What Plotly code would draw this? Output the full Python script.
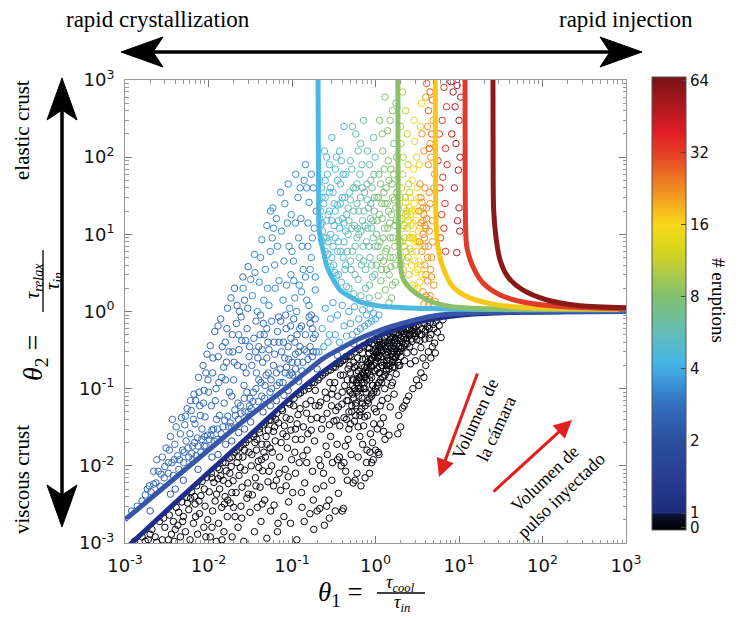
import math
import plotly.graph_objects as go

# ---------------- data ----------------
tick_vals = [1e-3, 1e-2, 1e-1, 1, 10, 100, 1000]
tick_text = ["10<sup>-3</sup>", "10<sup>-2</sup>", "10<sup>-1</sup>", "10<sup>0</sup>",
             "10<sup>1</sup>", "10<sup>2</sup>", "10<sup>3</sup>"]

cbar_eruptions = [0, 1, 2, 4, 8, 16, 32, 64]
cbar_labels = ["0", "1", "2", "4", "8", "16", "32", "64"]

# model curves (theta1, theta2) for 1, 2, 4, 8, 16, 32, 64 eruptions
curve_n1_t1 = [1e-3, 3e-3, 1e-2, 3e-2, 0.1, 0.2, 0.4, 0.7, 1.2, 2, 4, 8, 20, 60, 200, 1000]
curve_n1_t2 = [8.3e-4, 2.5e-3, 8.2e-3, 2.4e-2, 7.9e-2, 0.145, 0.25, 0.37, 0.5, 0.62, 0.77, 0.87, 0.94, 0.98, 0.99, 1.0]
curve_n2_t1 = [1e-3, 3e-3, 1e-2, 3e-2, 0.095, 0.143, 0.235, 0.4, 0.6, 1.0, 1.49, 3, 5.9, 20, 100, 1000]
curve_n2_t2 = [2.0e-3, 5.4e-3, 1.6e-2, 4.3e-2, 0.112, 0.16, 0.245, 0.34, 0.43, 0.54, 0.63, 0.78, 0.9, 0.97, 0.99, 1.0]
curve_n4_t1 = [0.205, 0.206, 0.208, 0.211, 0.22, 0.235, 0.263, 0.3, 0.376, 0.5, 0.65, 1.0, 1.37, 2.5, 4.5, 10, 30, 100, 1000]
curve_n4_t2 = [1000, 300, 60, 12.5, 8.5, 6.3, 3.8, 2.8, 1.9, 1.55, 1.33, 1.2, 1.15, 1.11, 1.09, 1.07, 1.06, 1.05, 1.05]
curve_n8_t1 = [1.855, 1.86, 1.87, 1.9, 1.95, 2.13, 2.8, 4.5, 7.8, 15, 30, 100, 1000]
curve_n8_t2 = [1000, 100, 25, 8, 5, 2.7, 1.85, 1.37, 1.16, 1.1, 1.08, 1.07, 1.06]
curve_n16_t1 = [5.2, 5.22, 5.3, 5.6, 6.4, 8.5, 13.5, 28.5, 71, 200, 1000]
curve_n16_t2 = [1000, 100, 15.4, 6.9, 3.8, 2.08, 1.5, 1.22, 1.12, 1.09, 1.07]
curve_n32_t1 = [11.8, 11.85, 12.0, 12.4, 14.7, 19.4, 31, 58, 176, 1000]
curve_n32_t2 = [1000, 100, 12.5, 6.9, 3.8, 2.34, 1.64, 1.33, 1.15, 1.08]
curve_n64_t1 = [25.5, 25.6, 26.0, 27.7, 31, 38.6, 58, 113, 281, 1000]
curve_n64_t2 = [1000, 100, 20.7, 9.2, 4.66, 2.8, 1.9, 1.41, 1.19, 1.12]

# simulated cases, (theta1, theta2), grouped by number of eruptions
pts_n0 = [
 (1.3e-3,1.05e-3),(1.6e-3,1.2e-3),(1.75e-3,1.05e-3),
 (1.9e-3,1.1e-3),(2.1e-3,1.5e-3),(2.3e-3,1.2e-3),(2.6e-3,1.9e-3),(2.8e-3,1.1e-3),(3.0e-3,1.6e-3),(2.4e-3,1.02e-3),
 (3.4e-3,2.3e-3),(3.6e-3,1.3e-3),(3.9e-3,1.05e-3),(4.1e-3,2.9e-3),(4.3e-3,1.7e-3),(4.6e-3,1.2e-3),(4.8e-3,3.4e-3),
 (5.0e-3,2.2e-3),(5.3e-3,1.4e-3),(5.5e-3,3.9e-3),(3.8e-3,1.9e-3),(4.4e-3,2.5e-3),
 (5.8e-3,2.7e-3),(6.0e-3,1.1e-3),(6.3e-3,4.6e-3),(6.6e-3,1.8e-3),(6.9e-3,3.2e-3),(7.2e-3,5.5e-3),(7.4e-3,1.3e-3),
 (7.8e-3,2.4e-3),(8.1e-3,4.1e-3),(8.4e-3,6.3e-3),(8.8e-3,1.6e-3),(9.1e-3,3.0e-3),(9.5e-3,7.1e-3),(9.8e-3,2.0e-3),
 (6.1e-3,3.8e-3),(7.0e-3,2.2e-3),
 (1.02e-2,4.6e-3),(1.05e-2,1.2e-3),(1.08e-2,8.0e-3),(1.12e-2,2.6e-3),(1.16e-2,6.1e-3),(1.2e-2,3.5e-3),(1.24e-2,1.05e-3),
 (1.28e-2,9.5e-3),(1.32e-2,1.8e-3),(1.36e-2,5.0e-3),(1.4e-2,7.4e-3),(1.44e-2,2.9e-3),(1.49e-2,1.1e-2),(1.53e-2,1.4e-3),
 (1.58e-2,4.0e-3),(1.63e-2,8.6e-3),(1.68e-2,2.2e-3),(1.73e-2,5.9e-3),(1.77e-2,1.25e-2),(1.1e-2,1.6e-3),(1.3e-2,6.8e-3),
 (1.55e-2,3.2e-3),
 (1.82e-2,3.3e-3),(1.87e-2,9.8e-3),(1.92e-2,1.2e-3),(1.97e-2,6.4e-3),(2.02e-2,1.5e-2),(2.08e-2,2.2e-3),(2.14e-2,4.5e-3),
 (2.2e-2,1.1e-2),(2.26e-2,1.6e-3),(2.32e-2,7.5e-3),(2.38e-2,1.75e-2),(2.45e-2,3.0e-3),(2.52e-2,5.3e-3),(2.58e-2,1.3e-2),
 (2.65e-2,1.05e-3),(2.72e-2,8.8e-3),(2.8e-2,2.0e-2),(2.88e-2,3.8e-3),(2.96e-2,6.0e-3),(3.05e-2,1.5e-2),(3.14e-2,2.5e-3),
 (2.0e-2,2.9e-3),(2.3e-2,1.3e-2),(2.7e-2,1.6e-2),
 (3.25e-2,1.0e-2),(3.35e-2,4.2e-3),(3.45e-2,2.4e-2),(3.55e-2,1.4e-3),(3.65e-2,7.0e-3),(3.75e-2,1.6e-2),(3.85e-2,2.9e-3),
 (3.95e-2,1.15e-2),(4.05e-2,3.0e-2),(4.15e-2,5.3e-3),(4.25e-2,1.9e-3),(4.35e-2,1.9e-2),(4.45e-2,8.6e-3),(4.55e-2,3.4e-2),
 (4.7e-2,3.6e-3),(4.8e-2,1.3e-2),(4.9e-2,2.4e-2),(5.0e-2,1.15e-3),(5.15e-2,6.2e-3),(5.3e-2,3.9e-2),(5.45e-2,1.7e-2),
 (5.55e-2,2.6e-3),(3.6e-2,2.0e-2),(4.0e-2,9.5e-3),(4.6e-2,1.5e-2),(5.2e-2,2.9e-2),
 (5.7e-2,1.0e-2),(5.9e-2,4.4e-2),(6.1e-2,3.1e-3),(6.3e-2,2.1e-2),(6.5e-2,6.5e-3),(6.7e-2,1.4e-3),(6.9e-2,3.6e-2),
 (7.1e-2,1.3e-2),(7.3e-2,4.8e-3),(7.5e-2,5.5e-2),(7.8e-2,2.6e-2),(8.0e-2,2.2e-3),(8.3e-2,9.0e-3),(8.5e-2,4.2e-2),
 (8.8e-2,1.7e-2),(9.1e-2,3.4e-3),(9.4e-2,6.3e-2),(9.7e-2,2.9e-2),(9.9e-2,1.2e-2),(6.0e-2,2.8e-2),(6.8e-2,1.8e-3),
 (8.1e-2,3.3e-2),(9.0e-2,7.2e-3),(6.4e-2,4.0e-2),
 (0.102,4.5e-3),(0.106,7.5e-2),(0.11,2.2e-2),(0.114,1.1e-3),(0.118,4.6e-2),(0.122,1.1e-2),(0.127,8.8e-2),(0.132,2.9e-3),
 (0.137,3.2e-2),(0.142,6.0e-3),(0.147,6.3e-2),(0.152,1.6e-2),(0.158,0.1),(0.164,2.4e-3),(0.17,4.0e-2),(0.176,8.5e-3),
 (0.108,1.5e-2),(0.125,5.5e-2),(0.14,1.9e-3),(0.155,2.6e-2),(0.168,7.0e-2),(0.115,3.5e-2),(0.135,1.35e-2),(0.172,0.12),
 (0.182,1.5e-3),(0.186,2.1e-2),(0.19,9.5e-2),(0.195,5.0e-3),(0.2,4.2e-2),(0.205,0.13),(0.21,1.2e-2),(0.215,2.8e-3),
 (0.22,6.7e-2),(0.226,3.0e-2),(0.232,0.15),(0.238,8.0e-3),(0.244,1.7e-3),(0.25,9.0e-2),(0.256,1.8e-2),(0.263,4.8e-2),
 (0.27,0.17),(0.277,3.6e-3),(0.284,0.12),(0.29,2.4e-2),(0.297,6.0e-2),(0.305,1.1e-2),(0.312,0.19),(0.318,3.8e-2),
 (0.2,2.6e-3),(0.24,5.5e-3),(0.28,2.1e-3),(0.3,8.5e-2),(0.21,6.0e-2),(0.265,1.4e-2),
 (0.325,0.12),(0.33,2.6e-3),(0.335,5.2e-2),(0.34,0.21),(0.347,1.9e-2),(0.354,8.0e-2),(0.36,4.4e-3),(0.367,0.21),
 (0.374,3.3e-2),(0.381,0.15),(0.388,1.0e-2),(0.396,6.3e-2),(0.404,0.23),(0.412,2.8e-3),(0.42,4.2e-2),(0.428,0.11),
 (0.436,1.8e-2),(0.444,0.26),(0.452,7.0e-2),(0.46,6.5e-3),(0.47,0.18),(0.48,3.0e-2),(0.49,9.5e-2),(0.5,0.27),
 (0.51,1.4e-2),(0.52,5.0e-2),(0.53,0.13),(0.54,6.0e-3),(0.55,0.22),(0.37,1.3e-2),(0.41,0.15),(0.45,4.0e-2),(0.49,0.2),
 (0.53,8.5e-2),(0.34,3.9e-2),(0.44,8.5e-3),(0.4,2.6e-3),
 (0.57,0.3),(0.58,6.0e-2),(0.59,0.16),(0.6,8.0e-3),(0.61,0.25),(0.62,3.2e-2),(0.63,0.1),(0.64,0.32),(0.65,5.0e-2),
 (0.66,0.14),(0.67,5.5e-3),(0.68,0.2),(0.69,7.5e-2),(0.7,1.9e-2),(0.72,0.36),(0.73,0.12),(0.74,4.3e-2),(0.76,0.24),
 (0.77,9.0e-2),(0.78,1.1e-2),(0.8,0.16),(0.81,0.34),(0.82,6.5e-2),(0.84,0.29),(0.85,0.13),(0.87,2.6e-2),(0.88,0.2),
 (0.9,8.0e-2),(0.91,0.38),(0.93,0.11),(0.94,1.2e-2),(0.96,0.26),(0.97,5.5e-2),(0.99,0.17),(0.62,1.3e-2),(0.75,7.0e-3),
 (0.86,1.5e-2),(0.95,3.5e-2),(0.7,0.29),(0.83,0.4),(0.57,6.5e-3),(0.79,1.6e-2),(0.85,8.0e-3),(0.9,1.1e-2),
 (1.02,0.42),(1.04,9.0e-2),(1.06,0.25),(1.08,1.5e-2),(1.1,0.16),(1.12,0.44),(1.14,6.0e-2),(1.16,0.32),(1.19,0.12),
 (1.21,0.2),(1.24,4.2e-2),(1.26,0.4),(1.29,0.1),(1.31,0.28),(1.34,0.18),(1.37,0.49),(1.4,7.5e-2),(1.43,0.35),(1.46,0.14),
 (1.49,0.23),(1.52,0.47),(1.55,0.11),(1.58,0.3),(1.61,0.19),(1.64,0.52),(1.67,8.5e-2),(1.7,0.4),(1.73,0.25),(1.77,0.155),
 (1.05,3.0e-2),(1.18,0.36),(1.3,2.2e-2),(1.45,2.5e-2),(1.5,5.8e-2),(1.2,7.0e-2),(1.38,0.23),(1.6,0.12),(1.75,0.33),
 (1.15,0.22),(1.28,0.46),(1.0,1.6e-2),(1.1,1.4e-2),
 (1.82,0.52),(1.85,0.3),(1.88,0.2),(1.92,0.58),(1.96,0.42),(2.0,0.26),(2.04,0.55),(2.08,0.34),(2.13,0.6),(2.18,0.46),
 (2.23,0.23),(2.28,0.38),(2.33,0.58),(2.38,0.29),(2.44,0.62),(2.5,0.49),(2.56,0.35),(2.62,0.21),(2.68,0.57),(2.75,0.41),
 (2.82,0.65),(2.9,0.3),(2.97,0.52),(3.05,0.64),(3.12,0.43),(1.9,4.5e-2),(2.0,3.2e-2),(1.85,2.6e-2),(2.1,5.6e-2),(3.0,0.23),
 (2.2,0.06),(2.5,0.08),(2.8,0.1),(3.1,0.13),(3.5,0.16),(4.0,0.2),(4.6,0.25),(5.2,0.29),(2.35,0.07),(3.3,0.11),(3.8,0.14),
 (3.3,0.68),(3.4,0.5),(3.5,0.34),(3.6,0.6),(3.7,0.25),(3.8,0.7),(3.9,0.44),(4.2,0.64),(4.3,0.3),(4.5,0.72),(4.6,0.5),
 (4.8,0.35),(4.9,0.68),(5.1,0.39),(5.3,0.75),(5.5,0.54),(5.8,0.66),(6.1,0.46),(6.4,0.78),
 (0.48,0.05),(0.52,0.06),(0.55,0.075),(0.58,0.065),(0.6,0.09),(0.63,0.08),(0.66,0.1),(0.69,0.12),(0.72,0.1),(0.75,0.14),
 (0.78,0.13),(0.82,0.17),(0.86,0.15),(0.9,0.19),(0.95,0.2),(1.0,0.22),(1.05,0.25),(1.1,0.27),(1.17,0.26),(1.24,0.31),
 (1.32,0.33),(1.4,0.3),(1.48,0.37),(1.56,0.4),(1.65,0.36),(1.75,0.45),(1.85,0.42),(0.5,0.035),(0.7,0.065),(0.92,0.11),
 (1.13,0.16),(1.36,0.2),(1.6,0.26),(1.9,0.35),
 (1.1e-2,7.0e-3),(1.35e-2,9.0e-3),(1.6e-2,1.1e-2),(1.9e-2,1.3e-2),(2.2e-2,1.6e-2),(2.6e-2,1.9e-2),(3.0e-2,2.2e-2),
 (3.5e-2,2.6e-2),(4.1e-2,2.7e-2),(4.8e-2,3.6e-2),(5.6e-2,3.9e-2),(6.6e-2,4.8e-2),(7.7e-2,5.2e-2),(9.0e-2,6.6e-2),
 (0.105,6.0e-2),(0.12,8.5e-2),(0.14,9.5e-2),(0.16,0.11),(0.185,0.12),(0.215,0.14),(0.25,0.16),(0.29,0.175),(0.33,0.19),
 (0.38,0.22),(0.43,0.24),(0.48,0.26),
 (1.5e-2,6.5e-3),(1.8e-2,8.0e-3),(2.4e-2,9.5e-3),(3.3e-2,1.4e-2),(3.8e-2,2.2e-2),(4.3e-2,1.2e-2),(5.0e-2,1.9e-2),
 (5.8e-2,1.5e-2),(6.2e-2,3.2e-2),(7.4e-2,2.0e-2),(8.6e-2,2.4e-2),(9.5e-2,4.0e-2),(0.11,3.0e-2),(0.13,2.2e-2),
 (0.15,4.8e-2),(0.17,2.9e-2),(0.19,6.0e-2),(0.23,4.0e-2),(0.26,7.5e-2),(0.28,3.4e-2),(0.31,0.1),(0.36,5.8e-2),(0.4,9.0e-2),
 (0.46,0.13),(0.5,0.16),(0.56,0.19),(0.6,0.13),
 (1.9e-2,4.5e-3),(2.5e-2,2.1e-3),(3.0e-2,4.3e-3),(3.7e-2,5.5e-3),(4.4e-2,3.2e-3),(5.3e-2,8.5e-3),(6.0e-2,5.5e-3),
 (7.0e-2,8.0e-3),(8.5e-2,5.5e-3),(9.6e-2,1.8e-3),(0.11,8.0e-3),(0.13,4.5e-3),(0.15,1.1e-2),(0.18,3.6e-3),(0.22,1.0e-2),
 (0.26,3.0e-3),(0.3,6.5e-3),(0.35,1.2e-2),(0.42,1.1e-2),(0.47,2.2e-2),(0.56,3.8e-2),(0.65,2.4e-2),(0.72,3.3e-2),
 (0.8,4.5e-2),(0.92,2.0e-2),(1.02,5.0e-2),(1.15,3.5e-2),(1.25,2.8e-2),
 (0.55,0.13),(0.62,0.17),(0.68,0.15),(0.74,0.19),(0.8,0.22),(0.87,0.24),(0.94,0.3),(1.0,0.33),(1.08,0.36),(1.18,0.3),
 (1.26,0.22),(1.35,0.27),(1.45,0.42),(1.55,0.33),(1.68,0.3),(1.8,0.38),(2.0,0.45),(2.2,0.52),(2.4,0.45),(2.6,0.5),
 (2.9,0.58),(3.2,0.55),(3.6,0.5),(4.0,0.58),(4.4,0.6),(0.65,0.045),(0.75,0.06),(0.85,0.075),(0.95,0.09),(1.05,0.11),
 (1.15,0.13),(1.3,0.15),(1.45,0.18),(1.6,0.22),(1.75,0.26),(2.0,0.33),(2.2,0.36),
 (2.0e-3,1.3e-3),(2.9e-3,2.1e-3),(3.3e-3,1.1e-3),(4.0e-3,1.5e-3),(4.9e-3,1.9e-3),(5.6e-3,3.3e-3),(6.8e-3,4.0e-3),
 (7.7e-3,3.5e-3),(8.9e-3,5.0e-3),(9.3e-3,1.2e-3),(1.25e-2,4.3e-3),(1.45e-2,1.1e-3),(1.7e-2,3.6e-3),
 (0.47,0.07),(0.5,0.09),(0.53,0.11),(0.56,0.1),(0.59,0.12),(0.62,0.11),(0.64,0.14),(0.67,0.13),(0.7,0.16),(0.73,0.15),
 (0.76,0.17),(0.79,0.19),(0.83,0.21),(0.88,0.23),(0.92,0.25),(0.97,0.27),(1.02,0.29),(1.07,0.31),(1.12,0.34),(1.2,0.38),
 (1.3,0.36),(1.4,0.39),(1.5,0.44),(1.62,0.46),(1.72,0.5),(1.9,0.5),(2.1,0.56),(2.3,0.5),(2.55,0.6),(2.8,0.52),
 (0.58,0.045),(0.68,0.055),(0.8,0.07),(0.9,0.085),(1.0,0.1),(1.1,0.12),(1.22,0.14),(1.35,0.17),(1.5,0.2),(1.65,0.24),
 (1.8,0.28),(1.95,0.3),(2.1,0.4),(2.4,0.38),(2.7,0.44),(3.0,0.48),(3.4,0.42),(3.9,0.55),(4.4,0.45),(5.0,0.6),
 (0.75,0.1),(0.9,0.14),(1.05,0.18),(1.2,0.2),(1.4,0.25),(1.55,0.28),(1.7,0.19),(1.85,0.22),(1.95,0.2),(0.6,0.2),
 (0.7,0.24),(0.85,0.33),(0.98,0.37),(1.12,0.4),
]
pts_n2 = [
 (2.0e-3,2.6e-3),(3.5e-3,4.3e-3),(5.0e-3,6.5e-3),(7.5e-3,9.0e-3),(1.1e-2,1.3e-2),(1.6e-2,1.9e-2),(2.3e-2,2.7e-2),
 (3.2e-2,3.7e-2),(4.5e-2,5.0e-2),(6.5e-2,7.0e-2),(9.0e-2,9.5e-2),(0.12,0.125),(4.0e-3,5.0e-3),(1.3e-2,1.4e-2),
 (2.7e-2,3.0e-2),(5.5e-2,6.0e-2),(8.0e-2,8.2e-2),(1.9e-2,2.1e-2),(0.2,0.18),(0.35,0.27),(0.55,0.38),(0.9,0.48),(1.5,0.6),
]
pts_n2_7 = [
 (1.2e-3,2.6e-3),(1.4e-3,3.0e-3),(1.6e-3,3.5e-3),(1.75e-3,4.2e-3),
 (1.85e-3,5.0e-3),(1.95e-3,5.5e-3),(2.05e-3,4.6e-3),(2.2e-3,8.5e-3),(2.35e-3,6.0e-3),(2.5e-3,8.5e-3),(2.65e-3,5.4e-3),
 (2.8e-3,1.3e-2),(2.95e-3,7.0e-3),(3.1e-3,1.7e-2),(2.4e-3,1.2e-2),(3.0e-3,9.8e-3),
 (3.3e-3,8.0e-3),(3.4e-3,1.6e-2),(3.5e-3,2.4e-2),(3.65e-3,1.1e-2),(3.8e-3,7.5e-3),(3.95e-3,1.9e-2),(4.1e-3,3.2e-2),
 (4.25e-3,1.35e-2),(4.4e-3,9.0e-3),(4.6e-3,2.6e-2),(4.75e-3,4.2e-2),(4.9e-3,1.6e-2),(5.05e-3,1.1e-2),(5.2e-3,3.4e-2),
 (5.4e-3,2.1e-2),(5.55e-3,5.5e-2),(3.7e-3,4.0e-2),
 (5.8e-3,1.3e-2),(6.0e-3,2.6e-2),(6.2e-3,5.2e-2),(6.45e-3,1.8e-2),(6.7e-3,8.5e-2),(6.9e-3,3.5e-2),(7.1e-3,1.35e-2),
 (7.35e-3,2.3e-2),(7.6e-3,0.14),(7.85e-3,6.0e-2),(8.1e-3,1.5e-2),(8.35e-3,3.0e-2),(8.6e-3,0.2),(8.85e-3,9.5e-2),
 (9.1e-3,4.3e-2),(9.35e-3,1.8e-2),(9.6e-3,0.28),(9.85e-3,0.13),(6.5e-3,1.2e-2),(8.0e-3,4.5e-2),(9.0e-3,2.4e-2),(7.0e-3,7.0e-2),
 (1.02e-2,2.2e-2),(1.05e-2,0.36),(1.08e-2,6.0e-2),(1.12e-2,0.16),(1.15e-2,3.0e-2),(1.19e-2,0.55),(1.23e-2,0.1),
 (1.27e-2,2.2e-2),(1.31e-2,0.26),(1.35e-2,4.5e-2),(1.4e-2,0.8),(1.44e-2,0.14),(1.49e-2,3.2e-2),(1.54e-2,6.5e-2),
 (1.59e-2,0.4),(1.64e-2,0.22),(1.69e-2,1.1),(1.74e-2,3.2e-2),(1.78e-2,9.0e-2),(1.1e-2,2.9e-2),(1.3e-2,0.65),(1.6e-2,0.13),
 (1.25e-2,4.0e-2),
 (1.82e-2,3.6e-2),(1.86e-2,1.5),(1.9e-2,8.0e-2),(1.95e-2,0.3),(2.0e-2,0.13),(2.05e-2,2.0),(2.1e-2,4.5e-2),(2.16e-2,0.7),
 (2.22e-2,0.2),(2.28e-2,4.0e-2),(2.35e-2,1.0),(2.42e-2,6.0e-2),(2.5e-2,0.42),(2.58e-2,2.8),(2.66e-2,0.11),(2.74e-2,5.0e-2),
 (2.82e-2,0.16),(2.9e-2,0.6),(2.98e-2,3.8),(3.06e-2,0.26),(3.14e-2,7.5e-2),(2.3e-2,0.5),(2.7e-2,1.4),(3.0e-2,5.0e-2),
 (3.25e-2,5.5e-2),(3.45e-2,9.0e-2),(3.65e-2,0.3),(3.75e-2,0.16),(3.95e-2,6.8e-2),(4.15e-2,0.5),(4.25e-2,0.12),
 (4.45e-2,0.22),(4.55e-2,0.7),(4.7e-2,7.5e-2),(4.9e-2,0.15),(5.15e-2,0.4),(5.45e-2,9.0e-2),(4.0e-2,0.35),(5.0e-2,0.25),
 (5.7e-2,0.1),(6.1e-2,0.4),(6.5e-2,0.16),(6.9e-2,0.85),(7.1e-2,0.12),(7.5e-2,0.3),(8.3e-2,0.16),(8.5e-2,0.6),
 (9.1e-2,0.24),(9.9e-2,0.16),(7.0e-2,0.4),(8.2e-2,0.25),(9.6e-2,0.65),
 (0.102,0.15),(0.108,0.4),(0.117,0.22),(0.124,0.6),(0.132,0.17),(0.14,0.32),(0.155,0.24),(0.165,0.7),(0.175,0.26),
 (0.18,0.45),(0.195,0.3),(0.11,0.28),(0.17,0.9),(0.19,0.5),(0.125,0.35),
 (2.2e-3,5.8e-3),(2.7e-3,7.8e-3),(3.3e-3,1.1e-2),(3.9e-3,1.2e-2),(4.5e-3,1.2e-2),(5.1e-3,1.5e-2),(5.7e-3,1.7e-2),
 (6.3e-3,1.45e-2),(6.8e-3,2.0e-2),(7.5e-3,1.8e-2),(8.3e-3,2.2e-2),(8.9e-3,1.8e-2),(9.7e-3,2.5e-2),(1.07e-2,2.5e-2),
 (1.17e-2,2.1e-2),(1.28e-2,3.0e-2),(1.42e-2,2.6e-2),(1.56e-2,3.9e-2),(1.7e-2,4.4e-2),(1.88e-2,3.2e-2),(2.07e-2,5.3e-2),
 (2.25e-2,6.5e-2),(2.45e-2,4.8e-2),(2.68e-2,7.5e-2),(2.88e-2,9.0e-2),(3.1e-2,6.0e-2),(3.4e-2,6.8e-2),(3.7e-2,0.1),
 (4.0e-2,0.13),(4.35e-2,8.0e-2),(4.75e-2,0.11),(5.2e-2,0.16),(5.6e-2,0.13),(6.0e-2,0.2),(6.6e-2,0.11),(7.2e-2,0.18),
 (7.8e-2,0.12),(8.6e-2,0.19),(9.3e-2,0.15),(0.1,0.22),(0.11,0.18),(0.12,0.3),(0.135,0.22),(0.15,0.3),(0.165,0.35),
 (0.18,0.3),
 (5.3e-3,4.4e-2),(6.1e-3,7.0e-2),(6.6e-3,4.0e-2),(7.7e-3,9.0e-2),(8.7e-3,6.5e-2),(9.3e-3,0.16),(1.0e-2,9.0e-2),
 (1.13e-2,0.25),(1.21e-2,7.0e-2),(1.33e-2,0.12),(1.46e-2,0.35),(1.52e-2,0.19),(1.66e-2,0.6),(1.76e-2,0.3),(1.93e-2,0.5),
 (2.03e-2,0.22),(2.2e-2,1.2),(2.32e-2,0.32),(2.46e-2,0.85),(2.62e-2,0.19),(2.78e-2,0.42),(2.95e-2,1.1),(3.1e-2,0.35),
 (3.3e-2,0.2),(3.5e-2,0.45),(3.7e-2,0.75),(3.9e-2,0.25),(4.2e-2,0.9),(4.4e-2,0.32),(4.65e-2,0.5),(5.0e-2,0.6),
 (5.3e-2,0.32),(5.7e-2,0.75),(6.2e-2,0.28),(6.7e-2,0.55),(7.3e-2,0.75),(7.9e-2,0.4),(8.4e-2,0.9),(9.0e-2,0.35),
 (9.7e-2,0.45),(0.105,0.8),(0.115,0.5),(0.13,0.65),(0.145,0.5),(0.16,0.85),(0.175,0.6),(0.19,0.8),
]
pts_n3_3 = [
 (3.35e-2,1.6),(3.55e-2,5.5),(3.85e-2,1.0),(4.05e-2,2.4),(4.35e-2,8.5),(4.8e-2,3.5),(5.0e-2,13),(5.3e-2,1.2),(5.55e-2,20),
 (5.9e-2,22),(6.3e-2,2.0),(6.7e-2,7.0),(7.3e-2,35),(7.8e-2,1.4),(8.0e-2,4.5),(8.8e-2,14),(9.4e-2,1.1),(9.7e-2,3.0),
 (6.0e-2,12),(9.0e-2,45),
 (0.105,2.5),(0.111,60),(0.114,1.0),(0.12,9.0),(0.128,16),(0.136,3.5),(0.145,80),(0.15,1.4),(0.16,26),(0.17,5.0),
 (0.185,12),(0.19,1.9),(0.13,1.8),(0.15,40),
 (2.6e-2,2.0),(3.2e-2,2.6),(3.6e-2,3.2),(4.2e-2,5.0),(4.6e-2,1.4),(5.1e-2,2.0),(5.5e-2,6.0),(5.8e-2,9.0),(6.2e-2,4.0),
 (6.5e-2,16),(7.0e-2,2.5),(7.5e-2,11),(8.2e-2,25),(8.6e-2,2.2),(9.2e-2,7.0),(9.8e-2,18),(0.104,4.5),(0.108,1.5),
 (0.118,30),(0.122,2.2),(0.132,7.0),(0.14,50),(0.145,2.8),(0.155,14),(0.16,1.2),(0.165,3.5),(0.175,9.0),(0.18,40),
 (0.19,2.8),(0.195,20),(0.17,60),(0.155,7.0),(0.125,40),(0.11,14),(0.1,6.0),
]
pts_n3_9 = [
 (0.21,0.3),(0.23,0.6),(0.25,1.1),(0.27,0.4),(0.29,0.8),(0.31,1.3),(0.33,0.5),(0.35,0.9),(0.37,0.4),(0.4,1.2),
 (0.42,0.65),(0.45,0.48),(0.48,1.0),(0.5,0.7),(0.53,0.5),(0.56,1.15),(0.6,0.55),(0.63,0.8),(0.66,0.6),(0.7,1.05),
 (0.74,0.65),(0.78,0.9),(0.82,0.7),(0.86,1.1),(0.9,0.75),(0.95,0.95),(1.0,0.8),(1.1,0.9),(0.24,0.35),(0.28,0.5),
]
pts_n4_8 = [
 (0.215,16),(0.22,13),(0.225,40),(0.23,8.0),(0.24,25),(0.245,120),(0.25,6.0),(0.26,15),(0.265,60),(0.27,5.5),(0.28,20),
 (0.29,3.8),(0.29,10),(0.3,180),(0.31,35),(0.315,4.0),(0.32,13),(0.33,70),(0.34,2.9),(0.35,24),(0.36,8.0),(0.37,120),
 (0.38,45),(0.39,2.4),(0.4,16),(0.41,5.0),(0.42,250),(0.43,30),(0.44,11),(0.45,2.1),(0.232,11),(0.26,100),(0.33,3.2),
 (0.36,3.0),
 (0.22,20),(0.23,30),(0.24,9.0),(0.25,50),(0.27,8.0),(0.28,35),(0.3,15),(0.3,5.0),(0.32,25),(0.33,9.0),(0.35,50),
 (0.36,15),(0.38,6.0),(0.39,90),(0.4,30),(0.42,8.0),(0.43,3.5),(0.44,60),(0.45,18),(0.28,80),
 (0.215,50),(0.23,14),(0.25,30),(0.26,9.0),(0.27,18),(0.29,40),(0.31,7.0),(0.33,20),(0.34,100),(0.35,6.0),(0.37,12),
 (0.38,25),(0.41,60),(0.42,14),(0.44,4.0),
]
pts_n6 = [
 (0.46,6.0),(0.47,22),(0.48,2.0),(0.5,90),(0.51,3.5),(0.52,12),(0.54,40),(0.55,1.7),(0.57,7.0),(0.58,200),(0.6,25),
 (0.62,2.6),(0.63,10),(0.65,60),(0.67,1.6),(0.68,4.0),(0.7,15),(0.72,300),(0.74,35),(0.76,2.0),(0.78,8.0),(0.8,120),
 (0.82,22),(0.84,1.5),(0.86,5.0),(0.88,50),(0.9,12),(0.92,2.8),(0.95,180),(0.97,30),(0.99,7.0),(0.53,250),(0.66,150),
 (0.47,10),(0.49,35),(0.5,4.5),(0.52,70),(0.55,20),(0.57,3.0),(0.6,45),(0.61,12),(0.64,5.0),(0.66,30),(0.69,80),
 (0.71,7.0),(0.73,20),(0.76,3.5),(0.79,45),(0.81,12),(0.85,80),(0.88,25),(0.9,4.0),(0.93,15),(0.96,60),(0.98,3.0),
 (0.62,120),(0.85,2.2),
 (0.48,15),(0.5,28),(0.53,6.0),(0.56,13),(0.58,40),(0.6,9.0),(0.63,20),(0.67,11),(0.7,40),(0.72,4.5),(0.75,13),
 (0.8,28),(0.83,7.0),(0.87,16),(0.91,40),(0.94,9.0),(0.97,20),(0.99,100),
]
pts_n8 = [
 (1.02,4.0),(1.05,15),(1.08,1.6),(1.1,60),(1.13,8.0),(1.16,2.5),(1.19,25),(1.22,120),(1.25,4.5),(1.28,12),(1.31,1.9),
 (1.34,40),(1.37,6.5),(1.4,220),(1.43,20),(1.46,3.0),(1.5,9.0),(1.53,70),(1.56,1.5),(1.6,30),(1.63,5.0),(1.66,150),
 (1.7,13),(1.73,2.4),(1.76,500),(1.8,35),(1.12,300),(1.3,600),(1.6,400),(1.45,1.3),
 (1.04,30),(1.07,7.0),(1.11,18),(1.15,45),(1.18,3.5),(1.23,9.0),(1.27,70),(1.3,25),(1.35,3.5),(1.4,12),(1.45,50),
 (1.5,5.0),(1.55,18),(1.6,2.2),(1.65,60),(1.7,7.0),(1.75,22),(1.78,100),(1.2,200),(1.5,300),
 (1.03,10),(1.09,30),(1.14,5.0),(1.2,16),(1.26,35),(1.32,6.0),(1.38,25),(1.42,90),(1.48,14),(1.52,3.8),(1.58,45),
 (1.62,9.0),(1.68,28),(1.72,4.0),(1.78,15),
]
pts_n11 = [
 (1.95,8.0),(1.98,30),(2.02,150),(2.05,5.0),(2.08,16),(2.12,60),(2.15,3.5),(2.2,22),(2.25,9.0),(2.3,400),(2.35,4.5),
 (2.4,12),(2.45,80),(2.5,3.0),(2.55,35),(2.6,6.5),(2.0,250),(2.3,18),(2.2,7.0),
 (1.97,15),(2.0,4.0),(2.05,40),(2.1,8.0),(2.15,100),(2.2,13),(2.27,30),(2.32,6.0),(2.38,20),(2.45,5.0),(2.5,45),
 (2.55,9.0),(2.1,700),(2.4,200),
]
pts_n15 = [
 (2.65,13),(2.7,4.0),(2.75,50),(2.8,2.2),(2.85,9.0),(2.9,25),(2.95,160),(3.0,3.2),(3.05,15),(3.1,6.0),(3.15,40),
 (3.2,2.0),(3.25,11),(3.3,4.5),(3.35,80),(3.4,2.4),(3.45,20),(3.5,7.5),(3.55,500),(3.6,3.0),(2.75,6.0),(3.0,8.0),
 (3.2,3.5),(2.9,2.0),(2.1,12),(2.3,26),(2.5,15),(2.7,20),(2.6,9.0),(2.8,14),
 (2.65,30),(2.75,9.0),(2.85,70),(2.95,4.5),(3.0,20),(3.1,100),(3.2,8.0),(3.3,30),(3.4,12),(3.5,4.0),(3.45,250),
 (2.9,300),(2.4,17),(2.55,22),(2.65,18),(2.8,10),
]
pts_n22 = [
 (3.3,20),(3.5,14),(3.6,26),(3.7,10),(3.8,18),(3.9,4.0),(4.0,12),(4.1,22),(4.2,2.5),(4.3,7.0),(4.4,35),(4.5,1.6),
 (4.6,100),(4.7,5.0),(4.8,15),(4.9,300),(5.0,2.2),(5.1,60),(3.4,45),(3.8,120),(4.2,250),(3.9,7.0),(4.7,2.8),(3.7,1.8),
 (4.0,1.6),(4.4,1.45),(3.8,1.25),(4.3,1.2),(4.9,1.25),(5.2,1.35),
 (3.35,8.0),(3.5,30),(3.6,6.0),(3.7,15),(3.85,9.0),(3.9,40),(4.0,3.0),(4.1,16),(4.2,5.0),(4.3,80),(4.4,11),(4.5,25),
 (4.6,3.5),(4.8,8.0),(5.0,40),(3.6,200),(4.0,600),(4.5,150),(3.9,13),(3.7,22),
]
pts_n28 = [
 (4.1,900),(4.3,400),(4.5,700),(4.7,200),(4.4,130),(4.8,550),
]
pts_n34 = [
 (6.3,300),(6.6,800),(6.9,130),(6.4,55),(6.8,25),(7.1,450),(5.6,90),(5.9,40),(6.2,18),(6.0,9.0),(6.6,12),(6.9,6.0),
 (5.8,200),(7.2,80),
]
pts_n48 = [
 (8.0,950),(8.5,700),(9.0,450),(9.5,850),(10.0,300),(8.2,200),(9.2,150),(10.3,100),(9.8,68),(10.0,22),(9.6,15),
 (10.2,11),(9.4,5.8),(8.8,40),(10.5,600),
]

# colour scale of the "# eruptions" bar (value = log2 of eruptions; 0 eruptions below 1)
cs_vals = [-0.236, -0.02, 0.0, 0.5, 1.0, 1.5, 1.8, 2.1, 2.5, 3.0, 3.3, 3.6, 4.0, 4.5, 5.0, 5.3, 5.6, 6.055]
cs_cols = ["#000000", "#0c1234", "#1d2b7c", "#283e93", "#2c4e9e", "#3470be", "#3b94d6", "#46b6e6",
           "#63bcb8", "#80c070", "#a8c84c", "#d2d41e", "#f8d81a", "#f08c22", "#e53e25", "#e01c24",
           "#b4181f", "#781416"]

# ---------------- figure ----------------
# the page has an 8 px body margin, so the figure is placed 8 px right/down
OFF = 8
W, H = 739 - 2 * OFF, 621 - 2 * OFF
PX0, PX1, PY0, PY1 = 125, 626, 80, 543      # plot area in page pixels
ML, MT = PX0 - OFF, PY0 - OFF
MR, MB = W - ML - (PX1 - PX0), H - MT - (PY1 - PY0)


def P(px, py):
    """page pixel -> paper coordinates"""
    return (px - PX0) / (PX1 - PX0), (PY1 - py) / (PY1 - PY0)


def cval(n):
    return -0.2 if n == 0 else math.log2(n)


CMIN, CMAX = cs_vals[0], cs_vals[-1]
colorscale = [[(v - CMIN) / (CMAX - CMIN), c] for v, c in zip(cs_vals, cs_cols)]

groups = [(pts_n0, 0), (pts_n2, 2.2), (pts_n2_7, 2.7), (pts_n3_3, 3.3), (pts_n3_9, 3.9),
          (pts_n4_8, 4.8), (pts_n6, 6), (pts_n8, 8), (pts_n11, 11), (pts_n15, 15),
          (pts_n22, 22), (pts_n28, 28), (pts_n34, 34), (pts_n48, 48)]
xs, ys, cs = [], [], []
for pts, n in groups:
    for a, b in pts:
        xs.append(a)
        ys.append(b)
        cs.append(cval(n))

fig = go.Figure()
fig.add_trace(go.Scatter(
    x=xs, y=ys, mode="markers", hoverinfo="skip",
    marker=dict(symbol="circle-open", size=6.5, color=cs, colorscale=colorscale,
                cmin=CMIN, cmax=CMAX, line=dict(width=1),
                colorbar=dict(
                    x=P(652, 0)[0], xanchor="left", xpad=0,
                    y=P(0, 303.5)[1], yanchor="middle", ypad=0,
                    len=453, lenmode="pixels", thickness=34, thicknessmode="pixels",
                    tickvals=[cval(n) for n in cbar_eruptions], ticktext=cbar_labels,
                    ticks="inside", ticklen=5, tickcolor="#444",
                    tickfont=dict(family="DejaVu Sans", size=15, color="#111"),
                    outlinewidth=1, outlinecolor="#555"))))

curves = [
    (curve_n1_t1, curve_n1_t2, "#1e2d86"),
    (curve_n2_t1, curve_n2_t2, "#3756a8"),
    (curve_n4_t1, curve_n4_t2, "#4cb8e2"),
    (curve_n8_t1, curve_n8_t2, "#8cc068"),
    (curve_n16_t1, curve_n16_t2, "#f7c81c"),
    (curve_n32_t1, curve_n32_t2, "#e03a28"),
    (curve_n64_t1, curve_n64_t2, "#8a1a1a"),
]
for cx, cy, col in curves:
    fig.add_trace(go.Scatter(x=cx, y=cy, mode="lines", hoverinfo="skip",
                             line=dict(color=col, width=5, shape="spline", smoothing=0.8)))

minor_vals = [m * 10.0 ** k for k in range(-3, 3) for m in range(2, 10)]
axis_common = dict(
    type="log", range=[-3, 3], tickvals=tick_vals, ticktext=tick_text,
    ticks="inside", ticklen=7, tickwidth=1, tickcolor="#777",
    showline=True, linecolor="#999", linewidth=1, mirror="ticks",
    showgrid=False, zeroline=False,
    tickfont=dict(family="DejaVu Sans", size=18, color="#111"),
    minor=dict(tickvals=minor_vals, ticks="inside", ticklen=3.5, tickcolor="#999", showgrid=False),
)
fig.update_xaxes(**axis_common, ticklabelstandoff=6)
fig.update_yaxes(**axis_common, ticklabelstandoff=6)

serif = "Liberation Serif"
ann = []


def text(px, py, s, size, angle=0, family=serif, color="black"):
    x, y = P(px, py)
    ann.append(dict(x=x, y=y, xref="paper", yref="paper", text=s, showarrow=False,
                    textangle=angle, xanchor="center", yanchor="middle",
                    font=dict(family=family, size=size, color=color)))


text(158, 19, "rapid crystallization", 23)
text(626, 19, "rapid injection", 23)
text(22, 130, "elastic crust", 21, -90)
text(22, 480, "viscous crust", 21, -90)
text(34, 358, "<i>θ</i><sub>2</sub> =", 28, -90)
text(33, 281, "<i>τ<sub>relax</sub></i>", 20, -90)
text(53, 281, "<i>τ<sub>in</sub></i>", 20, -90)
text(340, 594, "<i>θ</i><sub>1</sub> =", 27)
text(400, 583, "<i>τ<sub>cool</sub></i>", 18)
text(402, 603, "<i>τ<sub>in</sub></i>", 18)
text(719, 300, "# eruptions", 19, 90)
text(486, 424, "Volumen de<br>la cámara", 18, -65)
text(552, 487, "Volumen de<br>pulso inyectado", 18, -44)

# red arrows
for tip, tail in [((439, 477), (478, 372)), ((572, 420), (492, 493))]:
    x, y = P(*tip)
    ann.append(dict(x=x, y=y, xref="paper", yref="paper", text="", showarrow=True,
                    ax=tail[0] - tip[0], ay=tail[1] - tip[1],
                    arrowhead=2, arrowsize=1.2, arrowwidth=3, arrowcolor="#e0201e"))

shapes = []


def seg(p0, p1, w=3.5):
    x0, y0 = P(*p0)
    x1, y1 = P(*p1)
    shapes.append(dict(type="line", xref="paper", yref="paper", x0=x0, y0=y0, x1=x1, y1=y1,
                       line=dict(color="black", width=w)))


def head(pts):
    d = "M " + " L ".join(f"{P(a, b)[0]:.5f},{P(a, b)[1]:.5f}" for a, b in pts) + " Z"
    shapes.append(dict(type="path", xref="paper", yref="paper", path=d,
                       fillcolor="black", line=dict(color="black", width=1)))


seg((150, 52), (613, 52))
head([(121, 52), (163, 37), (153, 52), (163, 67)])
head([(642, 52), (600, 37), (610, 52), (600, 67)])
seg((62, 100), (62, 505))
head([(62, 78), (47, 120), (62, 110), (77, 120)])
head([(62, 527), (47, 485), (62, 495), (77, 485)])
# fraction bars
seg((43, 250), (43, 312), 1.3)
seg((377, 593), (425, 593), 1.3)

fig.update_layout(
    width=W, height=H, margin=dict(l=ML, r=MR, t=MT, b=MB, autoexpand=False),
    paper_bgcolor="white", plot_bgcolor="white", showlegend=False,
    annotations=ann, shapes=shapes,
)
fig.write_html("out.html")
